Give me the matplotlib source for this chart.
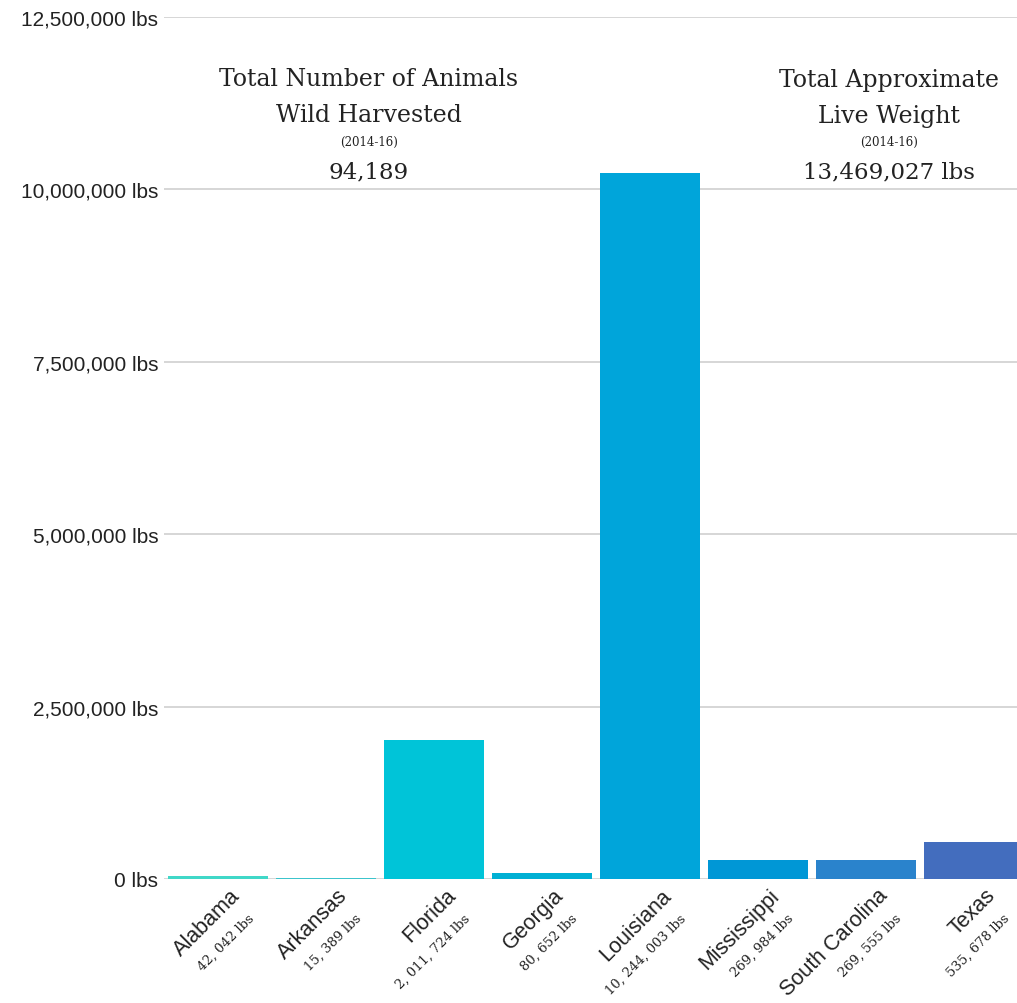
import matplotlib.pyplot as plt
import matplotlib.transforms as mtransforms
from matplotlib.ticker import FuncFormatter

states = ["Alabama", "Arkansas", "Florida", "Georgia", "Louisiana",
          "Mississippi", "South Carolina", "Texas"]
weights = [42042, 15389, 2011724, 80652, 10244003, 269984, 269555, 535678]
weight_labels = ["42, 042 lbs", "15, 389 lbs", "2, 011, 724 lbs", "80, 652 lbs",
                 "10, 244, 003 lbs", "269, 984 lbs", "269, 555 lbs", "535, 678 lbs"]
colors = ["#40d8c8", "#3cc4cc", "#00c4d8", "#00b0d4", "#00a5da",
          "#0097d6", "#2a83cc", "#436dbe"]
yticks = [0, 2500000, 5000000, 7500000, 10000000, 12500000]

total_animals = "94,189"
total_weight = "13,469,027 lbs"

serif = "DejaVu Serif"
sans = "Liberation Sans"
ink = "#222222"

fig = plt.figure(figsize=(10.17, 10.04), dpi=100)
ax = fig.add_axes([164 / 1017, 124 / 1004, 864 / 1017, 862 / 1004])

ax.bar(range(len(states)), weights, width=0.926, color=colors, zorder=3)

ax.set_xlim(-0.5, 7.5)
ax.set_ylim(0, 12500000)
ax.set_yticks(yticks)
ax.yaxis.set_major_formatter(FuncFormatter(lambda v, p: f"{int(v):,} lbs"))
ax.tick_params(axis="y", length=0, pad=4, labelsize=15, colors=ink)
for lab in ax.get_yticklabels():
    lab.set_fontfamily(sans)
ax.set_xticks([])
ax.grid(axis="y", color="#d0d0d0", linewidth=1.2, zorder=0)
for s in ax.spines.values():
    s.set_visible(False)

# x labels: state name and weight, rotated
trans = mtransforms.blended_transform_factory(ax.transData, ax.transAxes)
for i, (name, wl) in enumerate(zip(states, weight_labels)):
    ax.annotate(name, xy=(i, 0), xycoords=trans, xytext=(8, -4),
                textcoords="offset points", rotation=45, ha="right", va="top",
                rotation_mode="anchor", fontsize=15.5, family=sans, color=ink)
    ax.annotate(wl, xy=(i, 0), xycoords=trans, xytext=(21, -23),
                textcoords="offset points", rotation=45, ha="right", va="top",
                rotation_mode="anchor", fontsize=9.5, family=serif, color=ink)

# summary headers
def header(x, lines, total):
    xf = x / 1017
    fig.text(xf, 1 - 80 / 1004, lines[0], ha="center", va="center",
             fontsize=17, family=serif, color=ink)
    fig.text(xf, 1 - 116 / 1004, lines[1], ha="center", va="center",
             fontsize=17, family=serif, color=ink)
    fig.text(xf, 1 - 142 / 1004, "(2014-16)", ha="center", va="center",
             fontsize=8.5, family=serif, color=ink)
    fig.text(xf, 1 - 172 / 1004, total, ha="center", va="center",
             fontsize=16.5, family=serif, color=ink)

header(369, ["Total Number of Animals", "Wild Harvested"], total_animals)
header(889, ["Total Approximate", "Live Weight"], total_weight)

fig.savefig("out.png", dpi=100)
